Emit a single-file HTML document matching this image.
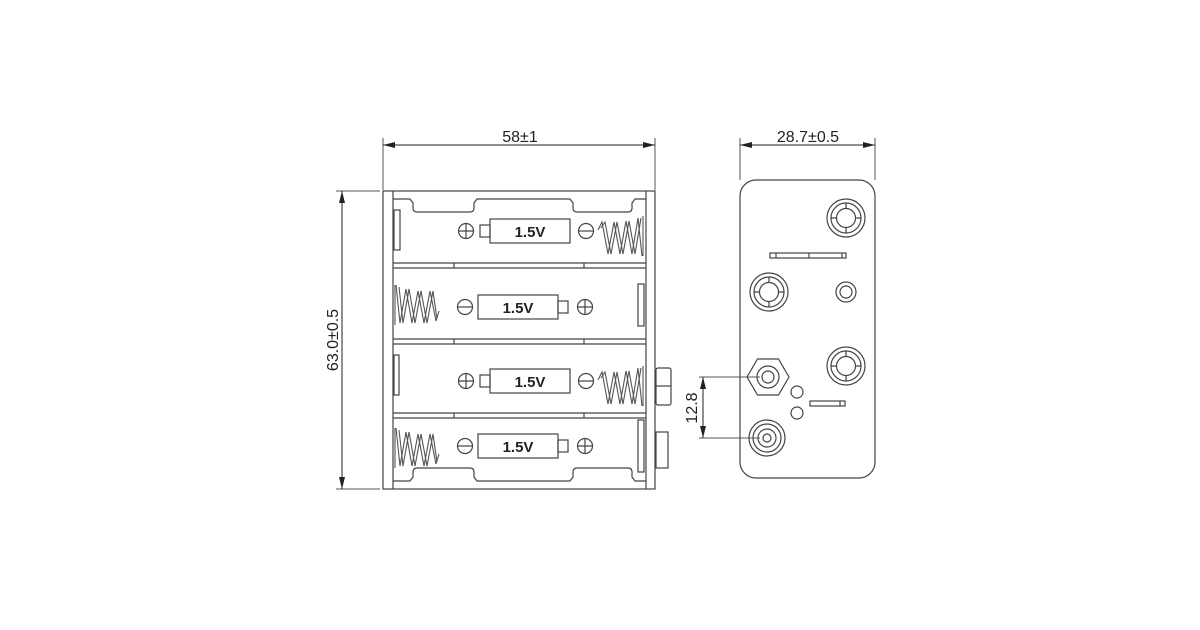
<!DOCTYPE html>
<html><head><meta charset="utf-8"><style>
body{margin:0;background:#fff}
svg{display:block}
text{font-family:"Liberation Sans",Arial,sans-serif;fill:#222}
</style></head><body>
<svg width="1200" height="630" viewBox="0 0 1200 630" xmlns="http://www.w3.org/2000/svg">
<defs>
<marker id="a" markerWidth="12" markerHeight="6" refX="12" refY="3" orient="auto-start-reverse" markerUnits="userSpaceOnUse"><path d="M0,0 L12,3 L0,6 z" fill="#222"/></marker>
<g id="plus"><circle r="7.5" fill="none" stroke="#444" stroke-width="1.2"/><path d="M-7.5,0H7.5M0,-7.5V7.5" stroke="#444" stroke-width="1.2"/></g>
<g id="minus"><circle r="7.5" fill="none" stroke="#444" stroke-width="1.2"/><path d="M-7.5,0H7.5" stroke="#444" stroke-width="1.2"/></g>
<g id="sprR" fill="none" stroke="#555" stroke-width="1.1">
<polyline points="598,-6 602,-14 608,18 614,-14 620,18 626,-15 632,18 638,-18 642,20"/>
<polyline points="601,-8 605,-14 611,18 617,-14 623,18 629,-15 635,18 641,-18"/>
<line x1="643" y1="-20" x2="643" y2="20"/>
</g>
<g id="sprL" fill="none" stroke="#555" stroke-width="1.1">
<line x1="395" y1="-20" x2="395" y2="20"/>
<polyline points="396,-20 400,18 406,-16 412,18 418,-14 424,18 430,-14 436,16 439,6"/>
<polyline points="399,-18 403,18 409,-16 415,18 421,-14 427,18 433,-14 437,14"/>
</g>
<g id="ring" fill="none" stroke="#444" stroke-width="1.2"><circle r="19"/><circle r="15"/><circle r="9.5"/><path d="M0,-15V-9.5M0,15V9.5M-15,0H-9.5M15,0H9.5"/></g>
</defs>

<line x1="383" y1="190" x2="383" y2="138" stroke="#555" stroke-width="1"/>
<line x1="655" y1="190" x2="655" y2="138" stroke="#555" stroke-width="1"/>
<line x1="383" y1="145" x2="655" y2="145" stroke="#222" stroke-width="1" marker-start="url(#a)" marker-end="url(#a)"/>
<text x="520" y="142" font-size="16" text-anchor="middle">58±1</text>
<line x1="336" y1="191" x2="380" y2="191" stroke="#555" stroke-width="1"/>
<line x1="336" y1="489" x2="380" y2="489" stroke="#555" stroke-width="1"/>
<line x1="342" y1="191" x2="342" y2="489" stroke="#222" stroke-width="1" marker-start="url(#a)" marker-end="url(#a)"/>
<text x="0" y="0" font-size="16" text-anchor="middle" transform="translate(338,340) rotate(-90)">63.0±0.5</text>

<g fill="none" stroke="#444" stroke-width="1.2">
<rect x="383" y="191" width="272" height="298"/>
<line x1="393" y1="191" x2="393" y2="489"/>
<line x1="646" y1="191" x2="646" y2="489"/>
<path d="M393,199 H410 l3,4 V208 q0,4 4,4 H470 q4,0 4,-4 V203 l3,-4 H570 l3,4 V208 q0,4 4,4 H628 q4,0 4,-4 V203 l3,-4 H646"/>
<path d="M393,481 H410 l3,-4 V472 q0,-4 4,-4 H470 q4,0 4,4 V477 l3,4 H570 l3,-4 V472 q0,-4 4,-4 H628 q4,0 4,4 V477 l3,4 H646"/>
<path d="M393,263H646M393,268H646 M393,339H646M393,344H646 M393,413H646M393,418H646"/>
<path d="M454,263v5M584,263v5M454,339v5M584,339v5M454,413v5M584,413v5"/>
<rect x="394" y="210" width="6" height="40"/>
<rect x="638" y="284" width="6" height="42"/>
<rect x="394" y="355" width="5" height="40"/>
<rect x="638" y="420" width="6" height="52"/>
<rect x="656" y="368" width="15" height="37" rx="2"/>
<line x1="656" y1="386" x2="671" y2="386"/>
<rect x="656" y="432" width="12" height="36"/>
</g>
<use href="#plus" x="466" y="231"/><rect x="480" y="225" width="10" height="12" fill="none" stroke="#444" stroke-width="1.2"/>
<rect x="490" y="219" width="80" height="24" fill="none" stroke="#444" stroke-width="1.2"/>
<text x="530" y="237" font-size="15" font-weight="bold" text-anchor="middle">1.5V</text>
<use href="#minus" x="586" y="231"/><use href="#sprR" x="0" y="236"/>
<use href="#minus" x="465" y="307"/><rect x="478" y="295" width="80" height="24" fill="none" stroke="#444" stroke-width="1.2"/>
<text x="518" y="313" font-size="15" font-weight="bold" text-anchor="middle">1.5V</text>
<rect x="558" y="301" width="10" height="12" fill="none" stroke="#444" stroke-width="1.2"/>
<use href="#plus" x="585" y="307"/><use href="#sprL" x="0" y="305"/>
<use href="#plus" x="466" y="381"/><rect x="480" y="375" width="10" height="12" fill="none" stroke="#444" stroke-width="1.2"/>
<rect x="490" y="369" width="80" height="24" fill="none" stroke="#444" stroke-width="1.2"/>
<text x="530" y="387" font-size="15" font-weight="bold" text-anchor="middle">1.5V</text>
<use href="#minus" x="586" y="381"/><use href="#sprR" x="0" y="386"/>
<use href="#minus" x="465" y="446"/><rect x="478" y="434" width="80" height="24" fill="none" stroke="#444" stroke-width="1.2"/>
<text x="518" y="452" font-size="15" font-weight="bold" text-anchor="middle">1.5V</text>
<rect x="558" y="440" width="10" height="12" fill="none" stroke="#444" stroke-width="1.2"/>
<use href="#plus" x="585" y="446"/><use href="#sprL" x="0" y="448"/>

<line x1="740" y1="180" x2="740" y2="138" stroke="#555" stroke-width="1"/>
<line x1="875" y1="180" x2="875" y2="138" stroke="#555" stroke-width="1"/>
<line x1="740" y1="145" x2="875" y2="145" stroke="#222" stroke-width="1" marker-start="url(#a)" marker-end="url(#a)"/>
<text x="808" y="142" font-size="16" text-anchor="middle">28.7±0.5</text>
<rect x="740" y="180" width="135" height="298" rx="16" fill="none" stroke="#444" stroke-width="1.2"/>
<use href="#ring" x="846" y="218"/>
<use href="#ring" x="769" y="292"/>
<use href="#ring" x="846" y="366"/>
<g fill="none" stroke="#444" stroke-width="1.2">
<rect x="770" y="253" width="76" height="5"/>
<path d="M776,253v5M809,253v5M842,253v5"/>
<circle cx="846" cy="292" r="10"/><circle cx="846" cy="292" r="6"/>
<polygon points="789,377 778.5,395 757.5,395 747,377 757.5,359 778.5,359"/>
<circle cx="768" cy="377" r="11"/><circle cx="768" cy="377" r="6"/>
<circle cx="797" cy="392" r="6"/><circle cx="797" cy="413" r="6"/>
<rect x="810" y="401" width="35" height="5"/><path d="M840,401v5"/>
<circle cx="767" cy="438" r="18"/><circle cx="767" cy="438" r="14"/><circle cx="767" cy="438" r="9"/><circle cx="767" cy="438" r="4"/>
</g>
<line x1="699" y1="377" x2="760" y2="377" stroke="#555" stroke-width="1"/>
<line x1="699" y1="438" x2="760" y2="438" stroke="#555" stroke-width="1"/>
<line x1="703" y1="377" x2="703" y2="438" stroke="#222" stroke-width="1" marker-start="url(#a)" marker-end="url(#a)"/>
<text x="0" y="0" font-size="16" text-anchor="middle" transform="translate(697,408) rotate(-90)">12.8</text>
</svg>
</body></html>
